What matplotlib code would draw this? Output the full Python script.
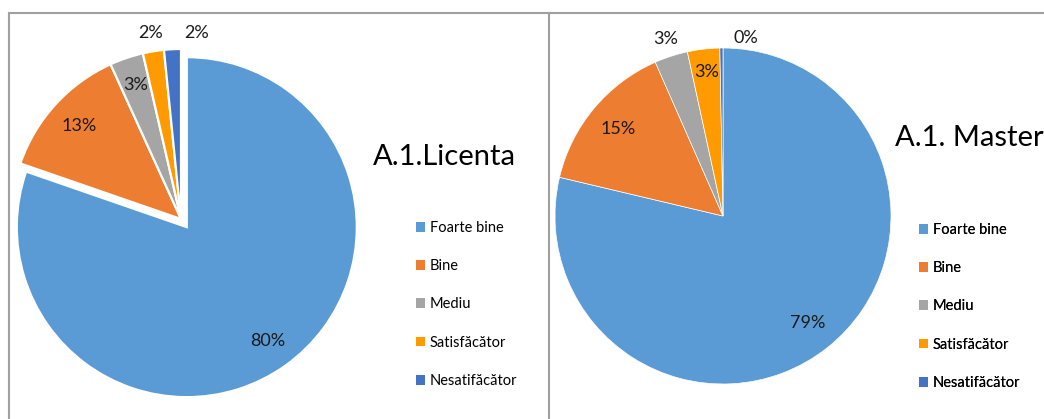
import matplotlib

matplotlib.use("Agg")
import matplotlib.pyplot as plt
import numpy as np
from matplotlib.patches import Patch
from matplotlib.lines import Line2D

plt.rcParams["font.family"] = ["Lato", "DejaVu Sans"]

categories = ["Foarte bine", "Bine", "Mediu", "Satisfăcător", "Nesatifăcător"]
licenta = [80.3, 12.9, 3.2, 2.0, 1.6]
master = [78.7, 14.7, 3.2, 3.1, 0.3]
colors = ["#5B9BD5", "#ED7D31", "#A5A5A5", "#FF9B00", "#4472C4"]

W, H = 1044, 419
fig = plt.figure(figsize=(W / 100, H / 100), dpi=100)
ax = fig.add_axes([0, 0, 1, 1])


def draw_pie(vals, center, radius, explode, edge_lw, dist, dtheta):
    # explode is in data units (pixels here)
    wedges, _ = ax.pie(
        vals,
        colors=colors,
        startangle=90,
        counterclock=False,
        center=center,
        radius=radius,
        explode=explode,
        wedgeprops=dict(edgecolor="white", linewidth=edge_lw),
        frame=True,
    )
    for w, v, d, dt in zip(wedges, vals, dist, dtheta):
        mid = np.deg2rad((w.theta1 + w.theta2) / 2 + dt)
        cx, cy = w.center
        ax.text(
            cx + d * w.r * np.cos(mid),
            cy + d * w.r * np.sin(mid),
            f"{v:.0f}%",
            ha="center",
            va="center",
            fontsize=13,
            color="#1a1a1a",
        )


draw_pie(licenta, (181, 200), 170, [10, 0, 0, 0, 0], 1.6,
         [0.82, 0.81, 0.83, 1.11, 1.10], [0, 0, 0, 0, -7.6])
draw_pie(master, (723, 203), 168, None, 0.5,
         [0.81, 0.81, 1.11, 0.86, 1.07], [0, 0, 0, 0, -8])
ax.set_xlim(0, W)
ax.set_ylim(0, H)
ax.set_aspect("equal")
ax.axis("off")

ax.text(373, H - 165, "A.1.Licenta", fontsize=21, ha="left", va="baseline")
ax.text(895, H - 146, "A.1. Master", fontsize=21, ha="left", va="baseline",
        clip_on=False)

handles = [Patch(facecolor=c, edgecolor="none") for c in colors]
for x0, y0 in [(416, 221), (919, 223)]:
    leg = ax.legend(
        handles, categories,
        loc="upper left",
        bbox_to_anchor=(x0, H - y0),
        bbox_transform=ax.transData,
        frameon=False,
        fontsize=10.5,
        handlelength=0.65,
        handleheight=0.65,
        handletextpad=0.3,
        labelspacing=1.66,
        borderpad=0,
        borderaxespad=0,
    )
    ax.add_artist(leg)

# panel borders
frame_kw = dict(color="#A0A0A0", lw=1.5, clip_on=False)
ax.add_line(Line2D([8.5, W], [H - 13.5, H - 13.5], **frame_kw))
ax.add_line(Line2D([8.5, 8.5], [0, H - 13.5], **frame_kw))
ax.add_line(Line2D([548.5, 548.5], [0, H - 13.5], **frame_kw))

fig.savefig("out.png", dpi=100)
